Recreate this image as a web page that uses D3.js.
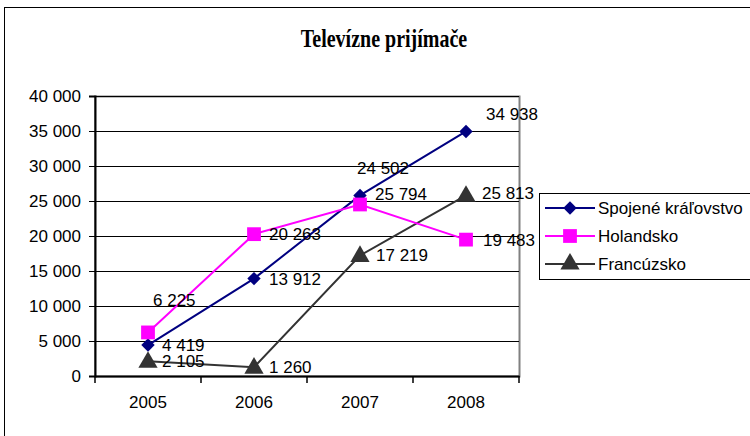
<!DOCTYPE html>
<html>
<head>
<meta charset="utf-8">
<script src="https://cdn.jsdelivr.net/npm/d3@7"></script>
<style>
body { margin: 0; background: #fff; }
text { font-family: "Liberation Sans", Arial, sans-serif; }
</style>
</head>
<body>
<div id="chart"></div>
<script>
// data
var years = ['2005', '2006', '2007', '2008'];
var seriesNames = ['Spojené kráľovstvo', 'Holandsko', 'Francúzsko'];
var ukValues = [4419, 13912, 25794, 34938];
var nlValues = [6225, 20263, 24502, 19483];
var frValues = [2105, 1260, 17219, 25813];
// label texts as they appear in the picture (2007 labels of UK / NL are swapped there)
var ukLabels = ['4 419', '13 912', '24 502', '34 938'];
var nlLabels = ['6 225', '20 263', '25 794', '19 483'];
var frLabels = ['2 105', '1 260', '17 219', '25 813'];
var yTicks = [0, 5000, 10000, 15000, 20000, 25000, 30000, 35000, 40000];

// label offsets from marker (styling, not data)
var ukOffsets = [[14, 0], [15, 0], [-3, -27], [20, -17]];
var nlOffsets = [[5, -32], [15, 0], [15, -10], [17, 0]];
var frOffsets = [[14, 0], [15, 0], [16, 0], [16, -2]];

var colors = ['#000080', '#ff00ff', '#333333'];
var shapes = [d3.symbolSquare, d3.symbolSquare, d3.symbolTriangle];
var sizes = [90, 190, 160];
var rotate = [45, 0, 0];

var width = 750, height = 436;
var margin = { top: 96, left: 95, right: 231, bottom: 60 };

var svg = d3.select('#chart').append('svg')
	.attr('width', width)
	.attr('height', height);

// outer frame
svg.append('rect')
	.attr('x', 4.5).attr('y', 7.5)
	.attr('width', 760).attr('height', 440)
	.attr('fill', 'white')
	.attr('stroke', '#000').attr('stroke-width', 1);

svg.append('text')
	.attr('transform', 'translate(384,46.5) scale(1,1.3)')
	.attr('text-anchor', 'middle')
	.style('font-family', '"Liberation Serif", "Times New Roman", serif')
	.style('font-weight', 'bold')
	.style('font-size', '20px')
	.text('Televízne prijímače');

var plotW = 519 - margin.left;
var plotH = 376 - margin.top;

var xScale = d3.scaleBand()
	.domain(years)
	.range([0, plotW]);

var yScale = d3.scaleLinear()
	.domain([0, 40000])
	.range([plotH, 0]);

var g = svg.append('g')
	.attr('transform', 'translate(' + margin.left + ',' + margin.top + ')');

// plot area border (grey)
g.append('rect')
	.attr('x', 0).attr('y', 0.5)
	.attr('width', plotW + 0.5).attr('height', plotH)
	.attr('fill', 'none')
	.attr('stroke', '#808080').attr('stroke-width', 2);

// gridlines
g.selectAll('.grid')
	.data(yTicks.slice(1))
	.enter().append('line')
	.attr('x1', 0).attr('x2', plotW)
	.attr('y1', function(d) { return Math.round(yScale(d)) + 0.5; })
	.attr('y2', function(d) { return Math.round(yScale(d)) + 0.5; })
	.attr('stroke', '#000').attr('stroke-width', 1);

// y axis
var yAxis = d3.axisLeft(yScale)
	.tickValues(yTicks)
	.tickSize(6)
	.tickPadding(8)
	.tickFormat(function(d) { return d3.format(',')(d).replace(/,/g, ' '); });
var yG = g.append('g').call(yAxis);
yG.select('.domain').attr('stroke-width', 2);
yG.selectAll('text').style('font-size', '17px').attr('fill', '#000');

// x axis
var xAxis = d3.axisBottom(xScale).tickSize(0).tickPadding(20);
var xG = g.append('g').attr('transform', 'translate(0,' + plotH + ')').call(xAxis);
xG.select('.domain').attr('stroke-width', 2);
xG.selectAll('text').style('font-size', '17px').attr('fill', '#000');
xG.selectAll('.edge')
	.data(d3.range(years.length + 1))
	.enter().append('line')
	.attr('x1', function(i) { return i * xScale.step(); })
	.attr('x2', function(i) { return i * xScale.step(); })
	.attr('y1', 0).attr('y2', 7)
	.attr('stroke', '#000').attr('stroke-width', 1.5);

function cx(i) { return xScale(years[i]) + xScale.bandwidth() / 2; }

var allValues = [ukValues, nlValues, frValues];
var allLabels = [ukLabels, nlLabels, frLabels];
var allOffsets = [ukOffsets, nlOffsets, frOffsets];

var line = d3.line()
	.x(function(d, i) { return cx(i); })
	.y(function(d) { return yScale(d); });

// draw series in back-to-front order: Francúzsko, Spojené, Holandsko
[2, 0, 1].forEach(function(s) {
	g.append('path')
		.datum(allValues[s])
		.attr('d', line)
		.attr('fill', 'none')
		.attr('stroke', colors[s])
		.attr('stroke-width', 2);
});
[2, 0, 1].forEach(function(s) {
	g.selectAll('.m' + s)
		.data(allValues[s])
		.enter().append('path')
		.attr('d', d3.symbol().type(shapes[s]).size(sizes[s]))
		.attr('transform', function(d, i) {
			var dy = s === 2 ? 1 : 0;
			return 'translate(' + cx(i) + ',' + (yScale(d) + dy) + ') rotate(' + rotate[s] + ')';
		})
		.attr('fill', colors[s]);
});
[0, 1, 2].forEach(function(s) {
	g.selectAll('.l' + s)
		.data(allValues[s])
		.enter().append('text')
		.attr('x', function(d, i) { return cx(i) + allOffsets[s][i][0]; })
		.attr('y', function(d, i) { return yScale(d) + allOffsets[s][i][1]; })
		.attr('dy', '0.35em')
		.style('font-size', '17px')
		.text(function(d, i) { return allLabels[s][i]; });
});

// legend
var leg = svg.append('g').attr('transform', 'translate(539,193)');
leg.append('rect')
	.attr('x', 0.5).attr('y', 0.5)
	.attr('width', 230).attr('height', 86)
	.attr('fill', 'white')
	.attr('stroke', '#000').attr('stroke-width', 1);
seriesNames.forEach(function(name, s) {
	var y = 15 + s * 28;
	leg.append('line')
		.attr('x1', 6).attr('x2', 56)
		.attr('y1', y).attr('y2', y)
		.attr('stroke', colors[s]).attr('stroke-width', 2);
	leg.append('path')
		.attr('d', d3.symbol().type(shapes[s]).size(sizes[s]))
		.attr('transform', 'translate(31,' + y + ') rotate(' + rotate[s] + ')')
		.attr('fill', colors[s]);
	leg.append('text')
		.attr('x', 59).attr('y', y)
		.attr('dy', '0.35em')
		.style('font-size', '17px')
		.text(name);
});
</script>
</body>
</html>
